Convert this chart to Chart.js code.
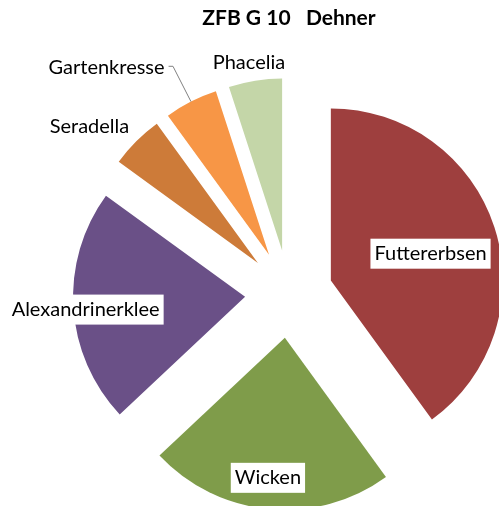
<!DOCTYPE html>
<html>
<head>
<meta charset="utf-8">
<script src="https://cdn.jsdelivr.net/npm/chart.js@4/dist/chart.umd.min.js"></script>
<style>
  html, body { margin: 0; padding: 0; background: #fff; }
  canvas { display: block; }
</style>
</head>
<body>
<canvas id="grafico" width="499" height="506"></canvas>
<script>
const sorten = ["Futtererbsen", "Wicken", "Alexandrinerklee", "Seradella", "Gartenkresse", "Phacelia"];
const anteile = [40, 23, 22, 5, 5, 5];
const farben = ["#9E3F3E", "#7F9C4A", "#6A5087", "#CD7B39", "#F79646", "#C4D6A8"];

// label placement relative to each exploded slice: [angle shift in degrees, distance / radius, boxed, leader line]
const platz = [
  [3, 0.60, true, false],
  [1.5, 0.82, true, false],
  [-1, 0.93, true, false],
  [-6, 1.26, false, false],
  [-14, 1.44, false, true],
  [-1, 1.11, false, false],
];

const schrift = "20px Lato";
const abstand = 44;

// pull every slice out along its middle angle, drawn by the arc element itself
const explodieren = {
  id: "explodieren",
  beforeDatasetDraw(chart, args) {
    const ctx = chart.ctx;
    args.meta.data.forEach((arc) => {
      const mitte = (arc.startAngle + arc.endAngle) / 2;
      ctx.save();
      ctx.translate(Math.cos(mitte) * abstand, Math.sin(mitte) * abstand);
      arc.draw(ctx);
      ctx.restore();
    });
    return false;
  },
};

const beschriftung = {
  id: "beschriftung",
  afterDatasetsDraw(chart) {
    const ctx = chart.ctx;
    const meta = chart.getDatasetMeta(0);
    ctx.save();
    ctx.font = schrift;
    ctx.textAlign = "center";
    ctx.textBaseline = "middle";
    meta.data.forEach((arc, i) => {
      const mitte = (arc.startAngle + arc.endAngle) / 2;
      const px = arc.x + Math.cos(mitte) * abstand;
      const py = arc.y + Math.sin(mitte) * abstand;
      const [dw, f, box, linie] = platz[i];
      const w = mitte + (dw * Math.PI) / 180;
      const lx = px + Math.cos(w) * arc.outerRadius * f;
      const ly = py + Math.sin(w) * arc.outerRadius * f;
      const text = chart.data.labels[i];
      const breite = ctx.measureText(text).width;
      if (box) {
        ctx.fillStyle = "#fff";
        ctx.fillRect(lx - breite / 2 - 4, ly - 15, breite + 8, 30);
      }
      if (linie) {
        const r1 = arc.outerRadius;
        const r2 = arc.outerRadius * 1.23;
        const ex = px + Math.cos(mitte) * r2;
        const ey = py + Math.sin(mitte) * r2;
        ctx.strokeStyle = "#808080";
        ctx.lineWidth = 1;
        ctx.beginPath();
        ctx.moveTo(px + Math.cos(mitte) * r1, py + Math.sin(mitte) * r1);
        ctx.lineTo(ex, ey);
        ctx.lineTo(lx + breite / 2 + 4, ey);
        ctx.stroke();
      }
      ctx.fillStyle = "#000";
      ctx.fillText(text, lx, ly);
    });
    ctx.restore();
  },
};

new Chart(document.getElementById("grafico"), {
  type: "pie",
  data: {
    labels: sorten,
    datasets: [
      {
        data: anteile,
        backgroundColor: farben,
        borderWidth: 0,
        clip: false,
      },
    ],
  },
  options: {
    responsive: false,
    animation: false,
    devicePixelRatio: 1,
    radius: 172,
    layout: { padding: { left: 79, top: 0, right: 0, bottom: 0 } },
    plugins: {
      legend: { display: false },
      tooltip: { enabled: false },
      title: {
        display: true,
        text: "ZFB G 10   Dehner",
        color: "#000",
        font: { family: "Lato", size: 21, weight: "bold" },
        padding: { top: 5.4, bottom: 51.4 },
      },
    },
  },
  plugins: [explodieren, beschriftung],
});
</script>
</body>
</html>
